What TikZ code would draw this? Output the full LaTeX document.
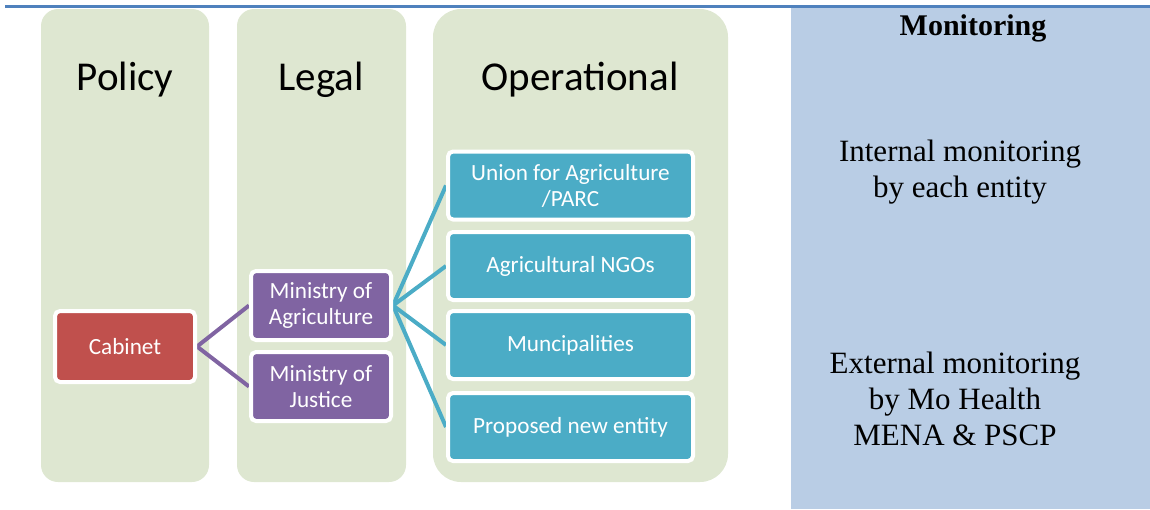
\documentclass[tikz,border=0pt]{standalone}
\usepackage{fontspec}
\setmainfont{Liberation Serif}
\setsansfont{Carlito}
\usetikzlibrary{backgrounds}

\definecolor{colfill}{RGB}{222,231,209}
\definecolor{monfill}{RGB}{185,205,229}
\definecolor{topline}{RGB}{79,129,189}
\definecolor{cabred}{RGB}{192,80,77}
\definecolor{minpurple}{RGB}{128,100,162}
\definecolor{opteal}{RGB}{75,172,198}

\tikzset{
  column/.style={fill=colfill, draw=none},
  coltitle/.style={font=\sffamily\fontsize{41}{48}\selectfont, anchor=base, inner sep=0pt},
  unitbox/.style={draw=white, line width=4pt, rounded corners=5pt, text=white,
    align=center, inner sep=0pt, minimum width=140pt, minimum height=69pt,
    font=\sffamily\fontsize{23.2}{26}\selectfont},
  cabbox/.style={unitbox, fill=cabred, minimum height=71pt},
  minbox/.style={unitbox, fill=minpurple},
  opbox/.style={unitbox, fill=opteal, minimum width=245pt, minimum height=68pt},
  purplelink/.style={draw=minpurple, line width=4pt},
  teallink/.style={draw=opteal, line width=4pt},
  montext/.style={font=\fontsize{31}{36}\selectfont, align=center, inner sep=0pt}
}

\begin{document}
\begin{tikzpicture}[x=1pt, y=-1pt]
  \useasboundingbox (0,0) rectangle (1150,509);

  % units
  \node[cabbox] (cabinet) at (125,346.5) {Cabinet};
  \node[minbox] (moa) at (321,305.5) {Ministry of\\Agriculture};
  \node[minbox] (moj) at (321,386.5) {Ministry of\\Justice};

  \node[opbox] (union) at (570.5,185.5) {Union for Agriculture\\/PARC};
  \node[opbox] (ngos) at (570.5,266) {Agricultural NGOs};
  \node[opbox] (munc) at (570.5,345) {Muncipalities};
  \node[opbox] (newent) at (570.5,427) {Proposed new entity};

  % panels and links, beneath the boxes
  \begin{scope}[on background layer]
    % monitoring panel and top rule
    \fill[monfill] (791,8) rectangle (1150,509);
    \draw[topline, line width=2.5pt] (5,6.5) -- (1150,6.5);

    % three columns
    \fill[column, rounded corners=17pt] (41,9) rectangle (209,482);
    \fill[column, rounded corners=17pt] (237,9) rectangle (406,482);
    \fill[column, rounded corners=28pt] (433,9) rectangle (728,482);

    \draw[purplelink] (cabinet.east) -- (moa.west);
    \draw[purplelink] (cabinet.east) -- (moj.west);
    \draw[teallink] (moa.east) -- (union.west);
    \draw[teallink] (moa.east) -- (ngos.west);
    \draw[teallink] (moa.east) -- (munc.west);
    \draw[teallink] (moa.east) -- (newent.west);
  \end{scope}

  \node[coltitle] (tpolicy) at (125,90) {Policy};
  \node[coltitle] (tlegal) at (321,90) {Legal};
  \node[coltitle] (toper) at (580,90) {Operational};

  % monitoring texts
  \node[font=\bfseries\fontsize{30}{36}\selectfont, anchor=base, inner sep=0pt] (mhead) at (973,35) {Monitoring};
  \node[montext] (minternal) at (960,172.5) {Internal monitoring\\by each entity};
  \node[montext] (mexternal) at (955,398.5) {External monitoring\\by Mo Health\\MENA \& PSCP};
\end{tikzpicture}
\end{document}
